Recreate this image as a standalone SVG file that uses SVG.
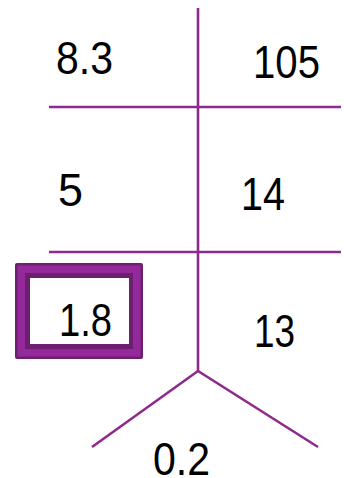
<svg xmlns="http://www.w3.org/2000/svg" width="344" height="478" viewBox="0 0 344 478">
<style>
.ln{stroke:#8e2a8e;stroke-width:2.6;fill:none;stroke-linecap:butt}
.t{font-family:"Liberation Sans",Arial,sans-serif;font-size:47px;fill:#000}
</style>
<rect width="344" height="478" fill="#fff"/>
<g id="connectors">
<line class="ln" x1="198" y1="8" x2="198" y2="371"/>
<line class="ln" x1="49" y1="107" x2="341" y2="107"/>
<line class="ln" x1="49" y1="252" x2="341" y2="252"/>
<polyline class="ln" points="92,447 198,371 318,447"/>
</g>
<g id="n-8.3"><text class="t" x="56" y="74" textLength="57" lengthAdjust="spacingAndGlyphs">8.3</text></g>
<g id="n-105"><text class="t" x="253" y="78" textLength="67" lengthAdjust="spacingAndGlyphs">105</text></g>
<g id="n-5"><text class="t" x="58" y="206" textLength="25" lengthAdjust="spacingAndGlyphs">5</text></g>
<g id="n-14"><text class="t" x="241" y="210" textLength="44" lengthAdjust="spacingAndGlyphs">14</text></g>
<g id="n-1.8">
<rect x="15" y="263" width="128" height="96" rx="2" fill="#6e2070"/>
<rect x="17.5" y="265.5" width="123" height="91" fill="#93299a"/>
<rect x="25" y="273" width="108" height="76" fill="#6e2070"/>
<rect x="30" y="278" width="99" height="66" fill="#fff"/>
<text class="t" x="59" y="336" textLength="53" lengthAdjust="spacingAndGlyphs">1.8</text>
</g>
<g id="n-13"><text class="t" x="254" y="347" textLength="41" lengthAdjust="spacingAndGlyphs">13</text></g>
<g id="n-0.2"><text class="t" x="153" y="475" textLength="57" lengthAdjust="spacingAndGlyphs">0.2</text></g>
</svg>
